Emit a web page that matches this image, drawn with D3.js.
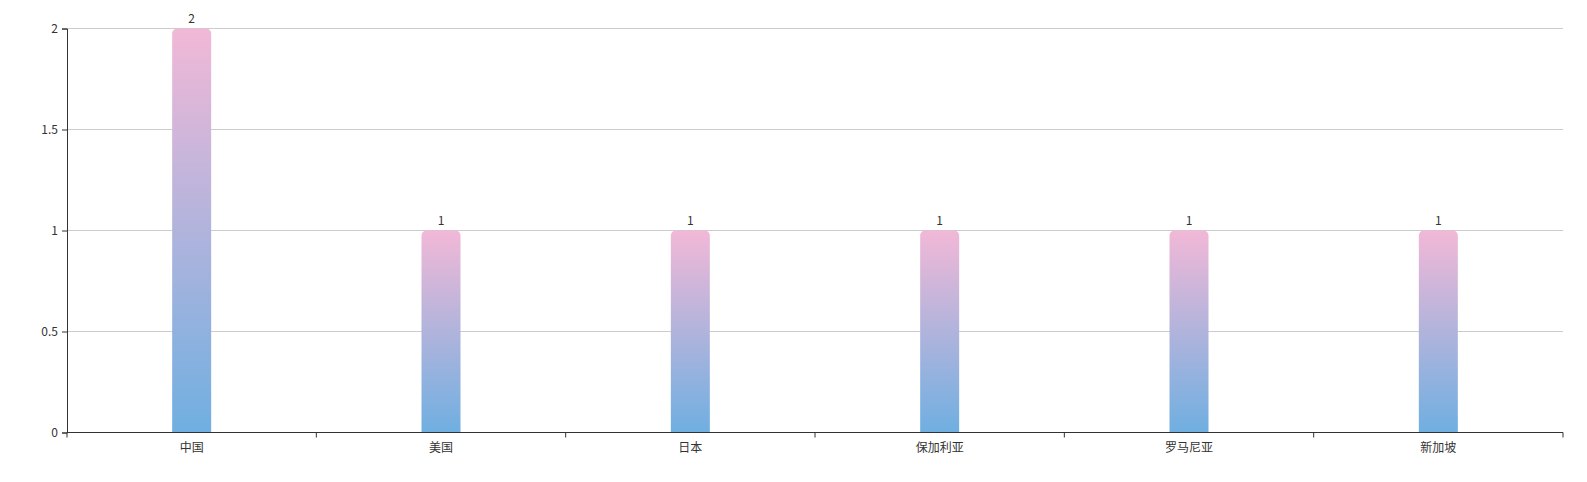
<!DOCTYPE html>
<html>
<head>
<meta charset="utf-8">
<script src="https://cdn.jsdelivr.net/npm/d3@7/dist/d3.min.js"></script>
<style>
  html, body { margin: 0; padding: 0; background: #fff; }
  text { font-family: "Noto Sans CJK SC", "Noto Sans", sans-serif; font-size: 12px; fill: #333; }
</style>
</head>
<body>
<div id="chart"></div>
<script>
// data
const countries = ['中国', '美国', '日本', '保加利亚', '罗马尼亚', '新加坡']
const counts = [2, 1, 1, 1, 1, 1]
const yTicks = [0, 0.5, 1, 1.5, 2]

const width = 1587,
  height = 482,
  margin = { top: 28.5, right: 24, bottom: 49.5, left: 67 },
  barWidth = 39,
  radius = 5

const innerW = width - margin.left - margin.right,
  innerH = height - margin.top - margin.bottom

const svg = d3.select('#chart').append('svg')
  .attr('width', width)
  .attr('height', height)

// gradient pink -> blue
const grad = svg.append('defs').append('linearGradient')
  .attr('id', 'barGrad')
  .attr('x1', 0).attr('y1', 0).attr('x2', 0).attr('y2', 1)
grad.append('stop').attr('offset', '0%').attr('stop-color', '#f2b8d7')
grad.append('stop').attr('offset', '100%').attr('stop-color', '#6fafe1')

const g = svg.append('g')
  .attr('transform', 'translate(' + margin.left + ',' + margin.top + ')')

const x = d3.scaleBand()
  .domain(countries)
  .range([0, innerW])

const y = d3.scaleLinear()
  .domain([0, 2])
  .range([innerH, 0])

// grid lines
g.append('g')
  .selectAll('line')
  .data(yTicks.filter(d => d !== 0))
  .enter().append('line')
  .attr('x1', 0)
  .attr('x2', innerW)
  .attr('y1', d => y(d))
  .attr('y2', d => y(d))
  .attr('stroke', '#cccccc')
  .attr('stroke-width', 1)

// y axis
const yAxis = g.append('g')
  .call(d3.axisLeft(y).tickValues(yTicks).tickSize(5).tickPadding(4).tickFormat(d3.format('')))
yAxis.select('.domain').attr('stroke', '#333')
yAxis.selectAll('.tick line').attr('stroke', '#333')
yAxis.selectAll('text').style('font-size', '12px').attr('fill', '#333')

// bars with rounded top
function barPath(x0, y0, w, h, r) {
  r = Math.min(r, h, w / 2)
  return 'M' + x0 + ',' + (y0 + h) +
    'V' + (y0 + r) +
    'A' + r + ',' + r + ' 0 0 1 ' + (x0 + r) + ',' + y0 +
    'H' + (x0 + w - r) +
    'A' + r + ',' + r + ' 0 0 1 ' + (x0 + w) + ',' + (y0 + r) +
    'V' + (y0 + h) + 'Z'
}

const data = countries.map((c, i) => ({ name: c, value: counts[i] }))

g.selectAll('.bar')
  .data(data)
  .enter().append('path')
  .attr('class', 'bar')
  .attr('d', d => barPath(x(d.name) + (x.bandwidth() - barWidth) / 2, y(d.value), barWidth, innerH - y(d.value), radius))
  .attr('fill', 'url(#barGrad)')

// value labels
g.selectAll('.val')
  .data(data)
  .enter().append('text')
  .attr('class', 'val')
  .attr('x', d => x(d.name) + x.bandwidth() / 2)
  .attr('y', d => y(d.value) - 6)
  .attr('text-anchor', 'middle')
  .text(d => d.value)

// x axis
const xAxisG = g.append('g')
  .attr('transform', 'translate(0,' + innerH + ')')
xAxisG.append('line')
  .attr('x1', 0).attr('x2', innerW)
  .attr('stroke', '#333')
xAxisG.selectAll('.tk')
  .data(countries.map(c => x(c)).concat([innerW]))
  .enter().append('line')
  .attr('class', 'tk')
  .attr('x1', d => d).attr('x2', d => d)
  .attr('y1', 0).attr('y2', 5)
  .attr('stroke', '#333')
xAxisG.selectAll('.lbl')
  .data(countries)
  .enter().append('text')
  .attr('class', 'lbl')
  .attr('x', d => x(d) + x.bandwidth() / 2)
  .attr('y', 19)
  .attr('text-anchor', 'middle')
  .text(d => d)
</script>
</body>
</html>
